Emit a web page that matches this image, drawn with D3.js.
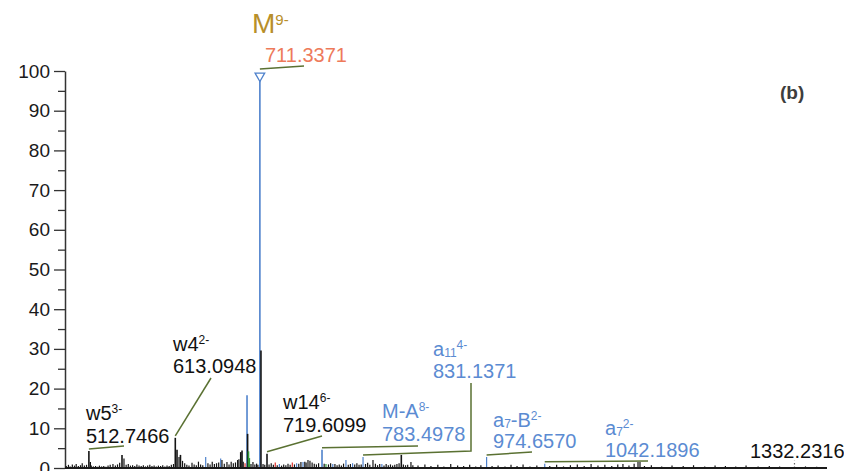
<!DOCTYPE html>
<html>
<head>
<meta charset="utf-8">
<script src="https://cdn.jsdelivr.net/npm/d3@7"></script>
<style>
  html, body { margin: 0; padding: 0; background: #fff; }
  svg { display: block; font-family: "Liberation Sans", Arial, sans-serif; }
</style>
</head>
<body>
<div id="chart"></div>
<script>
// Labelled / prominent peaks: [m/z, relative abundance, colour group]
const mainPeaks = [
  [512.7466, 4.3, "k"], [514.5, 1.5, "k"], [540.7, 1.0, "k"], [551.2, 3.3, "k"], [553.5, 2.4, "k"],
  [613.0948, 7.6, "k"], [615.1, 4.6, "k"], [617.4, 2.8, "k"], [619.1, 3.3, "k"], [632.5, 1.3, "k"],
  [648.4, 2.8, "b"], [665.8, 2.4, "b"], [667.3, 2.0, "k"], [673.1, 1.5, "k"], [689.1, 4.0, "k"],
  [690.6, 4.4, "k"], [694.1, 1.2, "r"], [696.4, 18.3, "b"], [697.1, 8.6, "k"], [698.1, 4.2, "g"],
  [699.3, 2.5, "g"], [703.3, 1.5, "k"], [711.3371, 99, "b"], [712.6, 29.6, "k"], [719.6099, 3.6, "k"],
  [729.2, 1.4, "r"], [749.0, 1.4, "r"], [761.4, 1.5, "b"], [767.2, 2.0, "k"], [783.4978, 4.6, "b"],
  [788.1, 1.0, "g"], [811.3, 2.0, "b"], [831.1371, 2.8, "b"], [842.7, 2.0, "k"], [875.6, 3.3, "k"],
  [886.8, 1.5, "k"], [974.657, 2.8, "b"], [1042.1896, 1.1, "b"], [1133.0, 1.0, "k"],
  [1150.5, 1.5, "k"], [1152.8, 1.5, "k"]
];

// Low-level baseline peaks: [m/z, relative abundance, colour group]
const noisePeaks = [
  [486.5, .5, "k"], [489, .8, "k"], [491, .4, "k"], [493.5, .9, "k"], [496, .6, "k"], [498, 1.0, "k"],
  [500.5, .5, "k"], [503, .7, "k"], [505, 1.2, "k"], [507.5, .6, "k"], [510, .8, "k"], [515.5, .6, "k"],
  [518, .4, "k"], [520.5, .5, "k"], [523, .3, "k"], [525, .6, "k"], [527.5, .4, "k"], [530, .5, "k"],
  [532.5, .3, "k"], [535, .6, "k"], [537.5, .8, "k"], [543.5, .6, "k"], [546, .9, "k"], [548.5, 1.3, "k"],
  [556, .8, "k"], [558.5, 1.0, "k"], [561, .6, "k"], [563.5, .7, "k"], [566, .5, "k"], [568.5, .9, "k"],
  [571, .6, "k"], [573.5, .5, "k"], [576, .7, "k"], [578.5, .4, "k"], [581, .6, "k"], [583.5, .8, "k"],
  [586, .5, "k"], [588.5, .6, "k"], [591, .4, "k"], [593.5, .6, "k"], [596, .5, "k"], [598.5, .7, "k"],
  [601, .4, "k"], [603.5, .6, "k"], [606, .5, "k"], [608.5, .8, "k"], [611, 1.0, "k"], [621.5, 1.8, "k"],
  [624, 1.2, "k"], [626.5, .8, "k"], [629, .6, "k"], [635, .9, "k"], [637.5, .7, "k"], [640, 1.6, "k"],
  [642.5, .9, "k"], [645, .7, "k"], [651, 1.2, "k"], [653.5, .9, "k"], [656, 1.6, "k"], [658.5, 1.0, "k"],
  [661, 1.2, "k"], [663.5, 1.4, "k"], [670, 1.1, "k"], [675.5, .9, "k"], [678, 1.6, "k"], [680.5, 1.2, "k"],
  [683, 1.4, "k"], [685.5, 2.0, "k"], [687, 2.2, "k"], [692, 1.6, "k"], [701, 1.0, "k"], [705.5, .9, "k"],
  [707.5, 1.1, "k"], [709, .8, "k"], [715, 1.0, "k"], [717, .8, "k"], [722, .9, "k"], [724.5, 1.2, "k"],
  [727, .8, "k"], [731.5, .7, "k"], [734, 1.0, "b"], [736.5, .6, "k"], [739, .9, "k"], [741.5, .7, "k"],
  [744, 1.1, "k"], [746.5, .8, "k"], [751.5, .9, "k"], [754, 1.2, "b"], [756.5, 1.1, "k"], [759, 1.5, "k"],
  [763.5, 1.6, "k"], [765, 1.4, "k"], [769.5, 1.8, "k"], [772, 1.4, "k"], [774.5, 1.1, "k"], [777, .9, "k"],
  [779.5, 1.2, "k"], [786, 1.1, "k"], [791, .9, "k"], [793.5, 1.2, "k"], [796, 1.0, "b"], [798.5, 1.0, "k"],
  [801, .7, "k"], [803.5, .9, "k"], [806, .6, "k"], [808.5, 1.1, "k"], [814, .8, "k"], [816.5, 1.0, "k"],
  [819, 1.2, "b"], [821.5, .9, "k"], [824, 1.2, "k"], [826.5, .8, "k"], [829, .9, "k"], [834, 1.0, "k"],
  [836.5, 1.3, "k"], [839, .8, "k"], [845.5, 1.1, "k"], [848, .7, "k"], [850.5, 1.0, "k"], [853, 1.0, "b"],
  [855.5, .6, "k"], [858, 1.0, "k"], [860.5, .7, "k"], [863, .9, "k"], [865.5, .6, "k"], [868, .8, "k"],
  [870.5, 1.0, "k"], [873, 1.2, "k"], [878, .9, "k"], [880.5, .7, "k"], [883, .8, "k"], [889, .7, "k"],
  [895, .6, "k"], [903, .9, "k"], [910, .5, "k"], [918, .8, "k"], [925, .4, "k"], [933, 1.0, "k"],
  [941, .6, "k"], [948, .5, "k"], [955, .8, "k"], [962, .4, "k"], [968, .7, "k"], [981, .5, "k"],
  [988, .6, "k"], [996, .4, "k"], [1003, .8, "k"], [1010, .5, "k"], [1017, .9, "k"], [1025, .4, "k"],
  [1033, .6, "k"], [1048, .5, "k"], [1056, .8, "k"], [1064, .4, "k"], [1072, .7, "k"], [1080, .9, "k"],
  [1088, .5, "k"], [1096, 1.0, "k"], [1104, .6, "k"], [1112, .8, "k"], [1120, .5, "k"], [1127, .9, "k"],
  [1140, .6, "k"], [1146, 1.1, "k"], [1158, .5, "k"], [1166, .7, "k"], [1178, .4, "k"], [1190, .6, "k"],
  [1203, .5, "k"], [1215, .7, "k"], [1228, .4, "k"], [1240, .6, "k"], [1252, .5, "k"], [1264, .4, "k"],
  [1276, .6, "k"], [1290, .4, "k"], [1303, .5, "k"], [1315, .4, "k"], [1345, .4, "k"], [1358, .3, "k"]
];

// Weak dotted peak at the high-mass end
const dottedPeaks = [[1332.2316, 1.8]];

// Annotated ions: m/z, ion name pieces, printed value, colour group
const ions = [
  { mz: 711.3371, base: "M", sub: "", sup: "9-", value: "711.3371", group: "precursor" },
  { mz: 512.7466, base: "w5", sub: "", sup: "3-", value: "512.7466", group: "w" },
  { mz: 613.0948, base: "w4", sub: "", sup: "2-", value: "613.0948", group: "w" },
  { mz: 719.6099, base: "w14", sub: "", sup: "6-", value: "719.6099", group: "w" },
  { mz: 783.4978, base: "M-A", sub: "", sup: "8-", value: "783.4978", group: "a" },
  { mz: 831.1371, base: "a", sub: "11", sup: "4-", value: "831.1371", group: "a" },
  { mz: 974.657, base: "a", sub: "7", post: "-B", sup: "2-", value: "974.6570", group: "a" },
  { mz: 1042.1896, base: "a", sub: "7", sup: "2-", value: "1042.1896", group: "a" },
  { mz: 1332.2316, base: "", sub: "", sup: "", value: "1332.2316", group: "w" }
];

const xDomain = [485, 1370];
const yTicks = d3.range(0, 101, 10);
const yMinorTicks = d3.range(5, 100, 10);

// ---- layout ----
const width = 844, height = 471;
const plot = { left: 65, right: 827, top: 71, bottom: 468 };

const peakColor = { k: "#141414", b: "#4f82cc", r: "#e0302a", g: "#2f9a3a" };
const textColor = { precursor: "#b88f2a", w: "#111111", a: "#5b8bd2" };
const leaderColor = "#5a7132";

// label placement: text x, name baseline, value baseline, leader path end points
const labelLayout = {
  "711.3371": { x: 265, nameX: 252, nameY: 33, valueY: 62, leader: [[304, 66]] },
  "512.7466": { x: 86, nameY: 420, valueY: 443, leader: [[124, 446]] },
  "613.0948": { x: 173, nameY: 351, valueY: 373, leader: [[211, 378]] },
  "719.6099": { x: 283, nameY: 409, valueY: 432, leader: [[322, 436]] },
  "783.4978": { x: 382, nameY: 418, valueY: 441, leader: [[418, 446]] },
  "831.1371": { x: 433, nameY: 356, valueY: 378, leader: [[471, 451], [471, 383]] },
  "974.6570": { x: 493, nameY: 427, valueY: 448, leader: [[532, 452]] },
  "1042.1896": { x: 605, nameY: 435, valueY: 457, leader: [[648, 461]] },
  "1332.2316": { x: 750, nameY: 0, valueY: 458, leader: [] }
};

const svg = d3.select("#chart").append("svg").attr("width", width).attr("height", height);

const x = d3.scaleLinear().domain(xDomain).range([plot.left, plot.right]);
const y = d3.scaleLinear().domain([0, 100]).range([plot.bottom, plot.top]);

// Y axis with major and minor ticks
const yAxis = svg.append("g")
  .attr("transform", `translate(${plot.left},0)`)
  .call(d3.axisLeft(y).tickValues(yTicks).tickSize(11).tickSizeOuter(0).tickPadding(4));
yAxis.select(".domain").attr("stroke", "#333").attr("stroke-width", 1.5);
yAxis.selectAll(".tick line").attr("stroke", "#333").attr("stroke-width", 1.3);
yAxis.selectAll(".tick text").attr("font-size", 19).attr("fill", "#1a1a1a")
  .attr("font-family", "'Liberation Sans', Arial, sans-serif");

const yMinor = svg.append("g")
  .attr("transform", `translate(${plot.left},0)`)
  .call(d3.axisLeft(y).tickValues(yMinorTicks).tickSize(7).tickFormat(""));
yMinor.select(".domain").remove();
yMinor.selectAll(".tick line").attr("stroke", "#333").attr("stroke-width", 1.3);

// Peaks (sticks)
const allPeaks = noisePeaks.concat(mainPeaks);
svg.append("g").selectAll("line.peak")
  .data(allPeaks)
  .join("line")
  .attr("class", "peak")
  .attr("x1", d => x(d[0])).attr("x2", d => x(d[0]))
  .attr("y1", y(0)).attr("y2", d => y(d[1]))
  .attr("stroke", d => peakColor[d[2]])
  .attr("stroke-width", d => (d[1] > 3 ? 1.6 : 1.2));

svg.append("g").selectAll("line.dotted")
  .data(dottedPeaks)
  .join("line")
  .attr("x1", d => x(d[0])).attr("x2", d => x(d[0]))
  .attr("y1", y(0)).attr("y2", d => y(d[1]))
  .attr("stroke", "#666").attr("stroke-width", 1.2).attr("stroke-dasharray", "1.5,2");

// X baseline
svg.append("line")
  .attr("x1", x(xDomain[0])).attr("x2", x(xDomain[1]))
  .attr("y1", y(0)).attr("y2", y(0))
  .attr("stroke", "#1a1a1a").attr("stroke-width", 1.8);

// Precursor marker: open downward triangle on the top of the base peak
const prec = mainPeaks.find(d => d[0] === ions[0].mz);
svg.append("path")
  .attr("d", d3.symbol().type(d3.symbolTriangle).size(40)())
  .attr("transform", `translate(${x(prec[0])},${y(prec[1]) + 1}) rotate(180)`)
  .attr("fill", "#fff").attr("stroke", "#4f82cc").attr("stroke-width", 1.3);

// Leader lines and labels
function peakTop(mz) {
  const p = mainPeaks.find(d => d[0] === mz);
  return p ? p[1] : 0;
}

ions.forEach(ion => {
  const lay = labelLayout[ion.value];
  const px = x(ion.mz);
  const py = y(peakTop(ion.mz)) - (ion.group === "precursor" ? 6 : 2);
  if (lay.leader.length) {
    svg.append("path")
      .attr("d", d3.line()([[px, py]].concat(lay.leader)))
      .attr("fill", "none").attr("stroke", leaderColor).attr("stroke-width", 1.5);
  }

  const col = ion.group === "precursor" ? "#ee7a5a" : textColor[ion.group];
  svg.append("text")
    .attr("x", lay.x).attr("y", lay.valueY)
    .attr("font-size", 20).attr("fill", col)
    .text(ion.value);

  if (!ion.base) return;
  const nameCol = textColor[ion.group];
  const big = ion.group === "precursor";
  const t = svg.append("text")
    .attr("x", lay.nameX != null ? lay.nameX : lay.x).attr("y", lay.nameY)
    .attr("fill", nameCol).attr("font-size", big ? 28 : 20);
  t.append("tspan").text(ion.base);
  let shift = 0;
  if (ion.sub) {
    t.append("tspan").attr("font-size", 12).attr("dy", 1).text(ion.sub);
    shift = 1;
  }
  if (ion.post) {
    t.append("tspan").attr("dy", -shift).text(ion.post);
    shift = 0;
  }
  if (ion.sup) {
    const up = big ? 8 : 7;
    t.append("tspan").attr("font-size", big ? 15 : 12).attr("dy", -up - shift).text(ion.sup);
  }
});

// Panel tag
svg.append("text")
  .attr("x", 780).attr("y", 99)
  .attr("font-size", 19).attr("font-weight", "bold").attr("fill", "#3d3d3d")
  .text("(b)");
</script>
</body>
</html>
